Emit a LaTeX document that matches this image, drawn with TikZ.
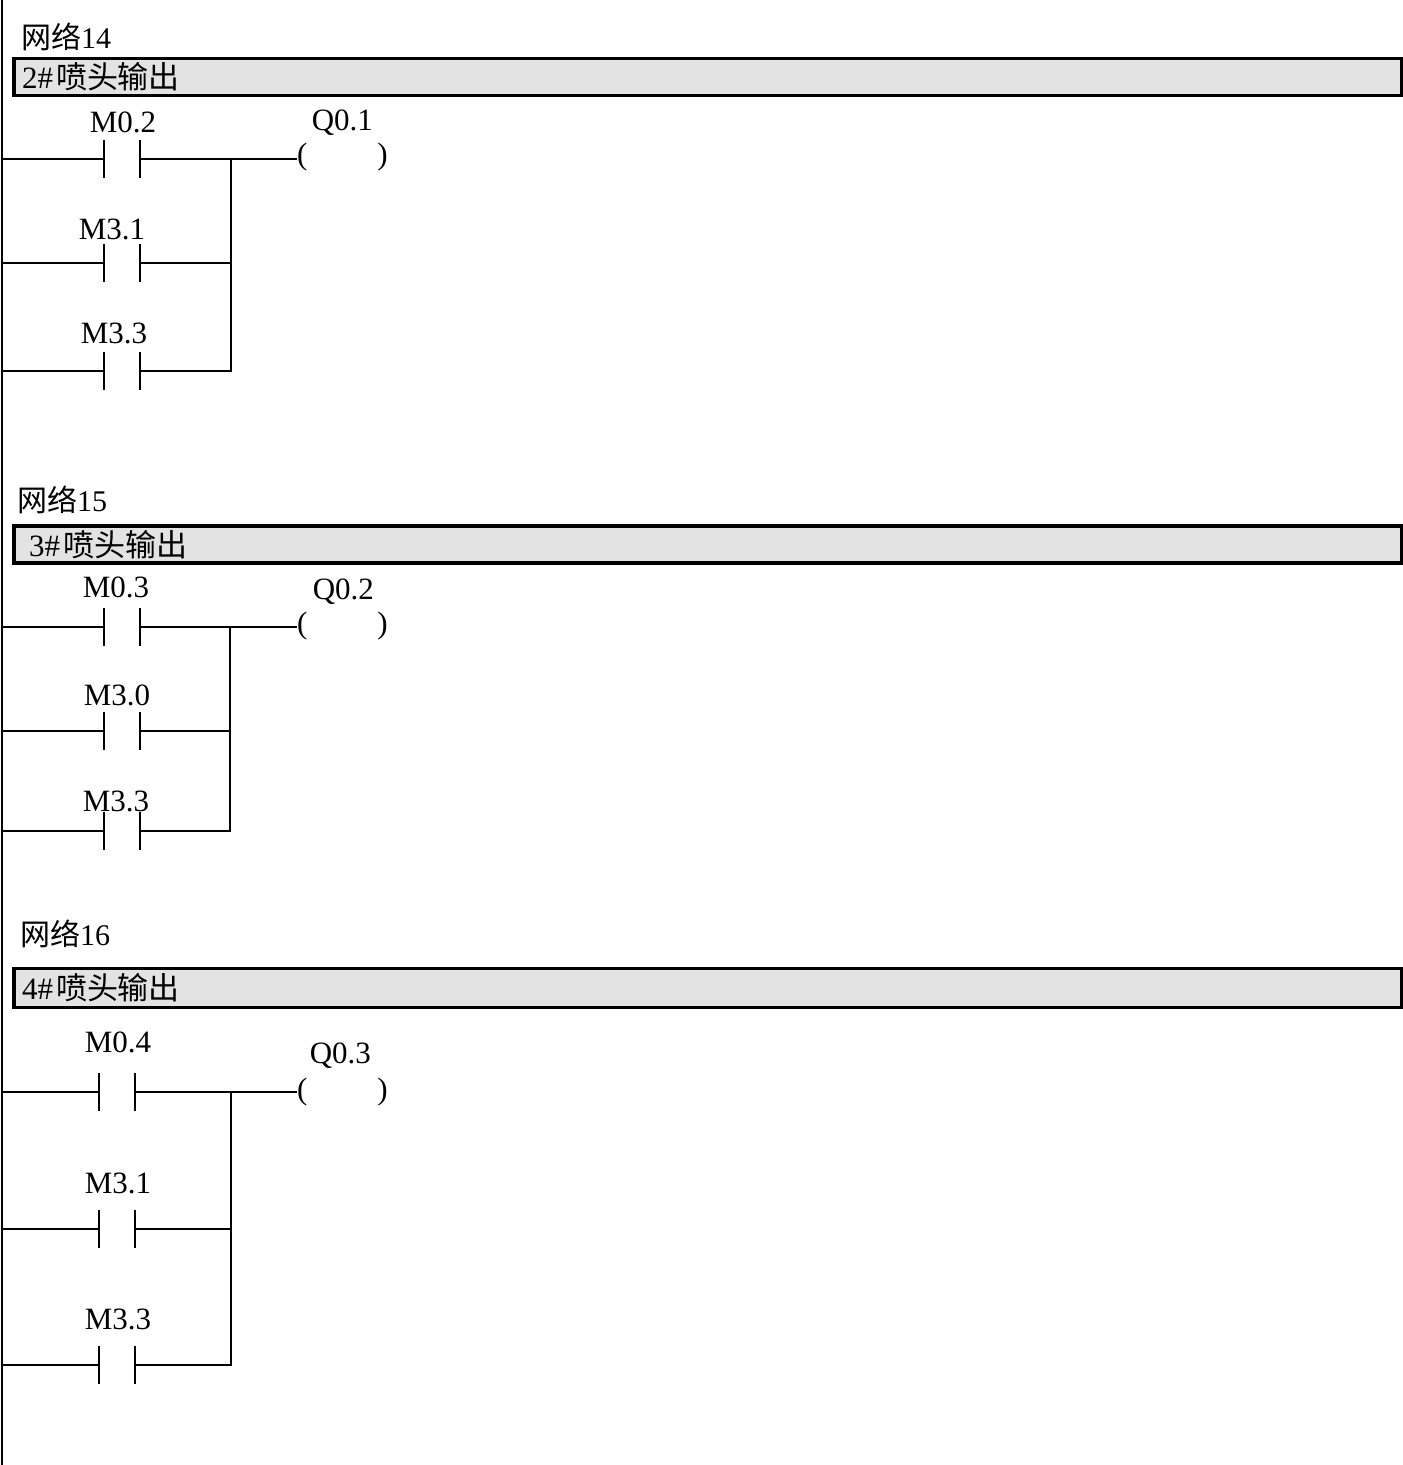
\documentclass[tikz,border=0pt]{standalone}
\usepackage{fontspec}
\setmainfont{Liberation Serif}
\newfontfamily\cjk{Noto Sans CJK SC}
\usepackage{tikz}
\usetikzlibrary{positioning}

\tikzset{
  wire/.style={line width=1.7pt},
  rail/.style={line width=2.4pt},
  contact/.style={minimum width=36pt, minimum height=38pt, inner sep=0pt, outer sep=0pt,
    append after command={(\tikzlastnode.north west) edge[wire] (\tikzlastnode.south west)
      (\tikzlastnode.north east) edge[wire] (\tikzlastnode.south east)}},
  tag/.style={inner sep=0pt, outer sep=0pt, text height=20pt, text depth=0pt, font=\fontsize{31}{36}\selectfont},
  coil/.style={inner sep=0pt, outer sep=0pt, text height=20.3pt, text depth=5.3pt, font=\fontsize{31}{36}\selectfont},
  title/.style={inner sep=0pt, outer sep=0pt, anchor=base west, font=\fontsize{30}{36}\selectfont},
  headbox/.style={draw, line width=3.4pt, fill=black!11, anchor=north west, outer sep=0pt, inner ysep=0pt,
    inner xsep=8pt, minimum height=37pt, text width=1372pt, align=left, font=\fontsize{31}{36}\selectfont},
}

\begin{document}
\begin{tikzpicture}[x=1pt, y=-1pt]
\useasboundingbox (0,0) rectangle (1403,1465);
\coordinate (top) at (2,0);
\coordinate (bottom) at (2,1465);
\draw[rail] (top) -- (bottom);

% network 14
\node[title] (N1) at (21,48) {{\cjk 网络}14};
\node[headbox] (H1) at (14,58.5) {2\#\hspace{3pt}{\cjk 喷头输出}};
\node[contact] (C1) at (122,159) {};
\node[contact, below=66pt of C1] (C2) {};
\node[contact, below=70pt of C2] (C3) {};
\node[tag, above=8pt of C1, xshift=1pt] (T1) {M0.2};
\node[tag, above=5pt of C2, xshift=-10pt] (T2) {M3.1};
\node[tag, above=9pt of C3, xshift=-8pt] (T3) {M3.3};
\node[coil, right=157pt of C1, yshift=2pt] (K1) {(\hspace{70pt})};
\node[tag, above=14pt of K1] (Q1) {Q0.1};
\coordinate (J1) at (231,159);
\draw[wire] (top |- C1) -- (C1.west);
\draw[wire] (top |- C2) -- (C2.west);
\draw[wire] (top |- C3) -- (C3.west);
\draw[wire] (C1.east) -- (K1.west |- C1);
\draw[wire] (C2.east) -| (J1);
\draw[wire] (C3.east) -| (J1);

% network 15
\node[title] (N2) at (17,511) {{\cjk 网络}15};
\node[headbox] (H2) at (14,526) {\hspace{7pt}3\#\hspace{3pt}{\cjk 喷头输出}};
\node[contact] (C4) at (122,627) {};
\node[contact, below=66pt of C4] (C5) {};
\node[contact, below=62pt of C5] (C6) {};
\node[tag, above=11pt of C4, xshift=-6pt] (T4) {M0.3};
\node[tag, above=7pt of C5, xshift=-5pt] (T5) {M3.0};
\node[tag, above=1pt of C6, xshift=-6pt] (T6) {M3.3};
\node[coil, right=157pt of C4, yshift=1pt] (K2) {(\hspace{70pt})};
\node[tag, above=14pt of K2, xshift=1pt] (Q2) {Q0.2};
\coordinate (J2) at (230,627);
\draw[wire] (top |- C4) -- (C4.west);
\draw[wire] (top |- C5) -- (C5.west);
\draw[wire] (top |- C6) -- (C6.west);
\draw[wire] (C4.east) -- (K2.west |- C4);
\draw[wire] (C5.east) -| (J2);
\draw[wire] (C6.east) -| (J2);

% network 16
\node[title] (N3) at (20,945) {{\cjk 网络}16};
\node[headbox, minimum height=39pt] (H3) at (14,968.5) {4\#\hspace{3pt}{\cjk 喷头输出}};
\node[contact] (C7) at (117,1092) {};
\node[contact, below=99pt of C7] (C8) {};
\node[contact, below=98pt of C8] (C9) {};
\node[tag, above=21pt of C7, xshift=1pt] (T7) {M0.4};
\node[tag, above=17pt of C8, xshift=1pt] (T8) {M3.1};
\node[tag, above=17pt of C9, xshift=1pt] (T9) {M3.3};
\node[coil, right=162pt of C7] (K3) {(\hspace{70pt})};
\node[tag, above=16pt of K3, xshift=-2pt] (Q3) {Q0.3};
\coordinate (J3) at (231,1092);
\draw[wire] (top |- C7) -- (C7.west);
\draw[wire] (top |- C8) -- (C8.west);
\draw[wire] (top |- C9) -- (C9.west);
\draw[wire] (C7.east) -- (K3.west |- C7);
\draw[wire] (C8.east) -| (J3);
\draw[wire] (C9.east) -| (J3);
\end{tikzpicture}
\end{document}
